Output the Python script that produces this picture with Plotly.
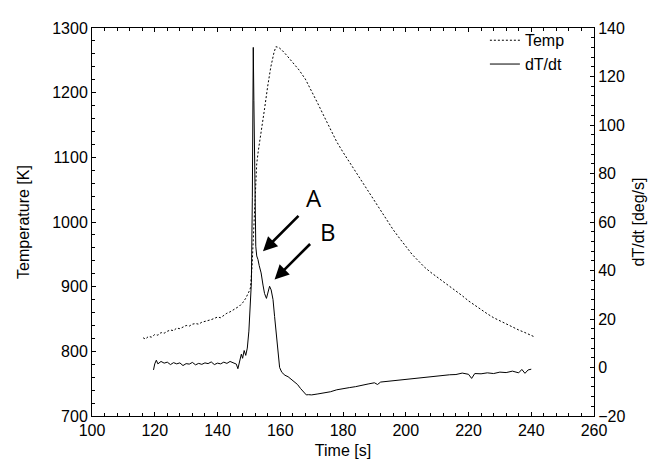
import plotly.graph_objects as go

# ---- Data ----
temp_time = [116.3, 117, 118, 119, 120, 121, 122, 123, 124, 125, 126, 127, 128, 129, 130,
             131, 132, 133, 134, 135, 136, 137, 138, 139, 140, 141, 142, 143, 144, 145,
             146, 147, 148, 149, 150, 150.5, 151, 151.5, 152, 152.5, 153, 153.5, 154, 155,
             156, 157, 158, 158.6, 159.5, 160.5, 162, 164, 166, 168, 170, 172, 174, 176,
             178, 180, 182, 184, 186, 188, 190, 192, 194, 196, 198, 200, 202, 204, 206,
             208, 210, 212, 214, 216, 218, 220, 222, 224, 226, 228, 230, 232, 234, 236,
             238, 240, 241.2]
temp_K = [821, 819, 823, 822, 826, 825, 829, 828, 831, 833, 832, 836, 835, 838, 840,
          839, 842, 843, 842, 845, 846, 847, 849, 851, 853, 852, 856, 859, 861, 864,
          867, 870, 875, 882, 892, 898, 930, 990, 1050, 1090, 1110, 1125, 1140, 1175,
          1210, 1240, 1262, 1271, 1270, 1266, 1258, 1246, 1235, 1221, 1203, 1183, 1163, 1143,
          1124, 1108, 1093, 1078, 1063, 1047, 1032, 1018, 1004, 988, 975, 962, 950, 940, 930,
          922, 915, 908, 901, 894, 886, 878, 871, 864, 858, 852, 847, 842, 837, 833,
          829, 825, 822]

rate_time = [119.6, 120, 120.5, 121, 122, 123, 124, 125, 126, 127, 128, 129, 130, 131, 132,
             133, 134, 135, 136, 137, 138, 139, 140, 141, 142, 143, 144, 145, 146, 146.5,
             147, 147.6, 148, 148.5, 149, 149.5, 150, 150.5, 150.8, 151.1, 151.4, 151.6,
             151.9, 152.2, 152.5, 152.9, 153.3, 153.9, 154.5, 155, 155.6, 156.1, 156.6,
             157.1, 157.7, 158.2, 158.7, 159.2, 159.8, 160.5, 161.5, 162.5, 163.5, 164.5,
             165.5, 166.5, 167.5, 168.3, 169, 170, 172, 174, 176, 178, 180, 182, 184, 186,
             188, 190, 191, 192, 194, 196, 198, 200, 202, 204, 206, 208, 210, 212, 214,
             216, 218, 220, 221, 222, 224, 226, 228, 230, 232, 234, 236, 237, 238, 239, 240]
rate_val = [-1, 1.5, 3, 1.5, 2.5, 1.8, 2.2, 1.2, 2, 1.5, 1.9, 0.8, 1.6, 1.4, 2.1,
            1.1, 1.7, 1.3, 1.9, 1.6, 2.3, 1.2, 1.8, 1.5, 2.2, 1.7, 2.5, 1.9, 1.4, -0.5,
            2, 5.5, 3.8, 7, 5, 8, 15, 25, 35, 70, 132, 110,
            70, 50, 46, 44.5, 42, 39, 34, 30.5, 28.5, 31, 33.5,
            32, 28, 21, 14.5, 7, 0, -2, -3.2, -3.8, -4.8, -5.8,
            -7, -8.7, -10.3, -11.3, -11.2, -11.3, -10.9, -10.6, -10, -9.2, -8.6, -8.3, -7.9, -7.2,
            -6.8, -6.3, -7, -6, -5.7, -5.4, -5.1, -4.8, -4.6, -4.2, -3.9, -3.6, -3.4, -3.2, -3,
            -2.9, -2.3, -2.8, -4.5, -2.5, -2.6, -2.2, -2.5, -1.9, -2.1, -1.5, -2.2, -0.8, -2.4, -1, -0.7]

x_ticks = [100, 120, 140, 160, 180, 200, 220, 240, 260]
y1_ticks = [700, 800, 900, 1000, 1100, 1200, 1300]
y2_ticks = [-20, 0, 20, 40, 60, 80, 100, 120, 140]

# annotation labels: (text, text x, text y2, tip x, tip y2)
labels = [("A", 170.7, 70.3, 154.5, 47.9), ("B", 175.2, 56.0, 158.2, 36.3)]

FONT = "Liberation Sans, Arial, sans-serif"

fig = go.Figure()
fig.add_trace(go.Scatter(x=temp_time, y=temp_K, mode="lines", name="Temp",
                         line=dict(color="black", width=1, dash="2px,2px"), yaxis="y"))
fig.add_trace(go.Scatter(x=rate_time, y=rate_val, mode="lines", name="dT/dt",
                         line=dict(color="black", width=1), yaxis="y2"))

for txt, tx, ty, px, py in labels:
    fig.add_annotation(x=px, y=py, xref="x", yref="y2", text="", showarrow=True,
                       ax=37, ay=-37, arrowhead=2, arrowsize=1.1, arrowwidth=2.6,
                       arrowcolor="black", standoff=0)
    fig.add_annotation(x=tx, y=ty, xref="x", yref="y2", text=txt, showarrow=False,
                       font=dict(family="Open Sans, sans-serif", size=24, color="black"))

axis_common = dict(showline=True, linecolor="black", linewidth=1, ticks="inside",
                   ticklen=4, tickcolor="black", showgrid=False, zeroline=False,
                   tickfont=dict(family=FONT, size=16, color="black"))

fig.update_layout(
    width=661, height=464,
    margin=dict(l=84, r=75, t=16, b=56),
    paper_bgcolor="white", plot_bgcolor="white",
    font=dict(family=FONT, size=16, color="black"),
    showlegend=True,
    legend=dict(x=0.952, y=1.012, xanchor="right", yanchor="top",
                bgcolor="rgba(0,0,0,0)", font=dict(family=FONT, size=16, color="black"),
                itemwidth=30, tracegroupgap=0),
    xaxis=dict(range=[100, 260], tickvals=x_ticks, mirror="ticks",
               minor=dict(dtick=4, ticks="inside", ticklen=3, tickcolor="black"),
               title=dict(text="Time [s]", font=dict(family=FONT, size=16), standoff=6),
               **axis_common),
    yaxis=dict(range=[700, 1300], tickvals=y1_ticks,
               minor=dict(dtick=20, ticks="inside", ticklen=3, tickcolor="black"),
               title=dict(text="Temperature [K]", font=dict(family=FONT, size=16), standoff=18),
               **axis_common),
    yaxis2=dict(range=[-20, 140], tickvals=y2_ticks, overlaying="y", side="right",
                minor=dict(dtick=4, ticks="inside", ticklen=3, tickcolor="black"),
                title=dict(text="dT/dt [deg/s]", font=dict(family=FONT, size=16), standoff=8),
                **axis_common),
)

fig.write_html("out.html")
